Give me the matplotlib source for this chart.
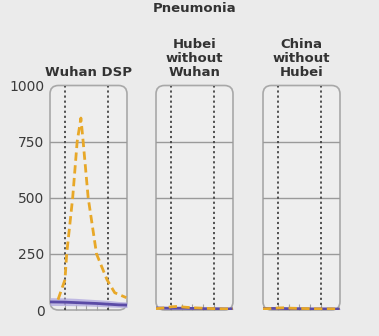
import numpy as np
import matplotlib.pyplot as plt
from matplotlib.patches import FancyBboxPatch

# weekly incidence, pneumonia
regions = ["Wuhan DSP", "Hubei\nwithout\nWuhan", "China\nwithout\nHubei"]

# observed 2020 series (dashed yellow)
obs_x = [[-0.65, 0.0, 0.16, 0.72, 1.14, 1.49, 1.7, 2.17, 2.95, 3.93, 4.65, 5.74],
         [-1.4, -0.5, 0.0, 0.6, 1.2, 2.0, 3.0, 4.0, 5.0, 5.8],
         [-1.4, -0.5, 0.0, 0.6, 1.2, 2.0, 3.0, 4.0, 5.0, 5.8]]
obs_y = [[46, 135, 250, 500, 750, 855, 750, 500, 250, 135, 77, 55],
         [6, 10, 14, 16, 13, 10, 8, 6, 5, 5],
         [5, 7, 9, 10, 8, 7, 6, 5, 5, 4]]

# expected from previous years (purple line with band)
exp_x = [-1.4, 0, 1, 2, 3, 4, 5, 5.8]
exp_y = [[36, 35, 33, 31, 29, 26, 23, 22],
         [9, 8, 8, 7, 6, 6, 5, 5],
         [7, 7, 6, 6, 5, 5, 5, 4]]
exp_lo = [[20, 20, 19, 18, 16, 14, 12, 11],
          [4, 4, 4, 3, 3, 3, 2, 2],
          [3, 3, 3, 3, 2, 2, 2, 2]]
exp_hi = [[55, 54, 52, 49, 46, 43, 38, 36],
          [14, 13, 12, 11, 10, 9, 8, 8],
          [11, 11, 10, 9, 8, 8, 7, 7]]

yticks = [0, 250, 500, 750, 1000]
period = [0, 4]

bg = "#ebebeb"
fig = plt.figure(figsize=(3.79, 3.36), dpi=100, facecolor=bg)
lefts = [50, 156, 263]
W, H = 379.0, 336.0
for i, name in enumerate(regions):
    ax = fig.add_axes([lefts[i] / W, 26 / H, 77 / W, 224.5 / H])
    ax.set_facecolor("none")
    for s in ax.spines.values():
        s.set_visible(False)
    frame = FancyBboxPatch((0, 0), 1, 1, boxstyle="round,pad=0,rounding_size=0.11",
                           mutation_aspect=77 / 224.5, transform=ax.transAxes,
                           facecolor="#eeeeee", edgecolor="#a8a8a8", lw=1.2,
                           clip_on=False, zorder=0)
    ax.add_patch(frame)
    ax.set_xlim(-1.4, 5.8)
    ax.set_ylim(0, 1000)
    for v in yticks[1:-1]:
        ax.axhline(v, color="#9a9a9a", lw=1, zorder=1)
    for v in period:
        ax.axvline(v, color="#444444", lw=1.3, ls=(0, (1.2, 1.6)), zorder=2)
    ax.fill_between(exp_x, exp_lo[i], exp_hi[i], color="#b3abe0", alpha=0.8,
                    lw=0, zorder=3)
    ax.plot(exp_x, exp_y[i], color="#5b4ba6", lw=2, zorder=4)
    ax.plot(obs_x[i], obs_y[i], color="#e8a828", lw=2, dashes=(3, 1.6), zorder=5)
    ax.set_xticks([0, 1, 2, 3, 4])
    ax.tick_params(axis="x", direction="in", length=4, color="#a0a0a0",
                   labelbottom=False)
    ax.set_yticks(yticks)
    ax.tick_params(axis="y", length=0, pad=4, labelsize=10, labelcolor="#3a3a3a")
    if i > 0:
        ax.tick_params(axis="y", labelleft=False)
    ax.set_title(name, fontsize=9.5, fontweight="bold", color="#333333",
                 pad=7, linespacing=1.1)

fig.text(195 / W, 1 - 8.5 / H, "Pneumonia", ha="center", va="center",
         fontsize=9.5, fontweight="bold", color="#333333")
fig.savefig("out.png", dpi=100, facecolor=bg)
